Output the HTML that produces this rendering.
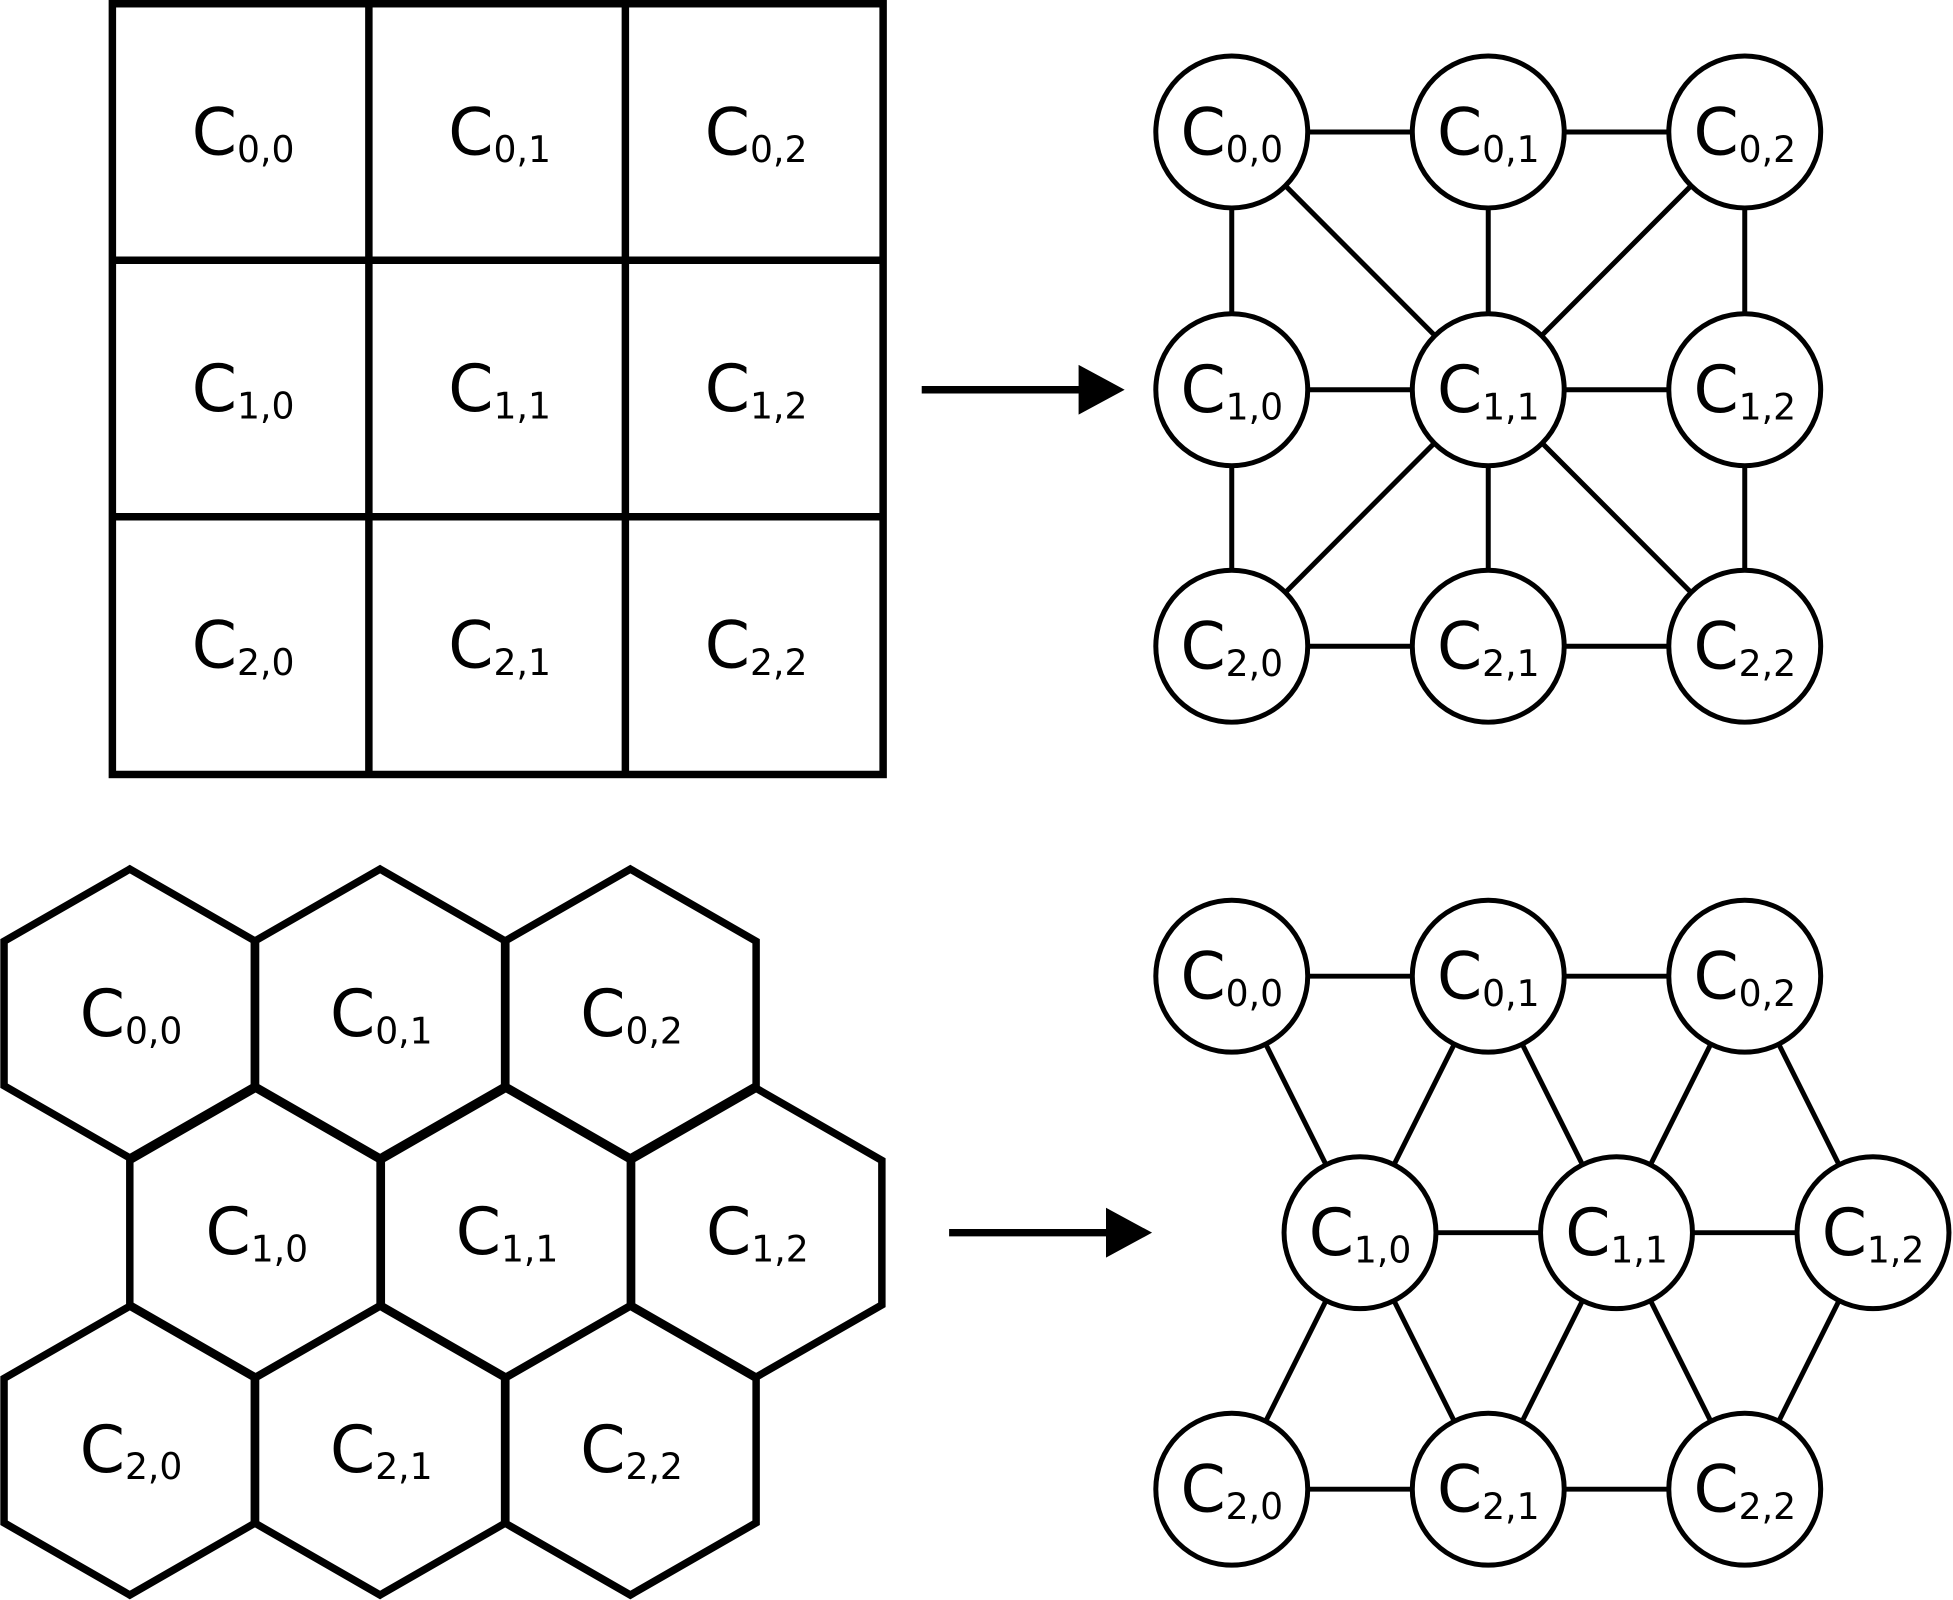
<!DOCTYPE html>
<html><head><meta charset="utf-8"><style>html,body{margin:0;padding:0;background:#fff}svg{display:block}</style></head>
<body>
<svg width="1953" height="1600" viewBox="0 0 1568 1285" xmlns="http://www.w3.org/2000/svg" font-family="DejaVu Sans, Liberation Sans, sans-serif">
<rect width="1568" height="1285" fill="#fff"/>
<g fill="none" stroke="#000" stroke-width="6">
<rect x="90" y="3" width="619" height="619"/>
<line x1="296" y1="3" x2="296" y2="622"/><line x1="502" y1="3" x2="502" y2="622"/>
<line x1="90" y1="209" x2="709" y2="209"/><line x1="90" y1="415" x2="709" y2="415"/>
</g>
<line x1="740" y1="313" x2="872" y2="313" stroke="#000" stroke-width="6"/>
<polygon points="866,293 903,313 866,333" fill="#000"/>
<line x1="762" y1="990" x2="892" y2="990" stroke="#000" stroke-width="6"/>
<polygon points="888,970 925,990 888,1010" fill="#000"/>
<g fill="none" stroke="#000" stroke-width="6">
<polygon transform="translate(104,814)" points="0,-116 101,-58 101,58 0,116 -101,58 -101,-58"/>
<polygon transform="translate(305,814)" points="0,-116 101,-58 101,58 0,116 -101,58 -101,-58"/>
<polygon transform="translate(506,814)" points="0,-116 101,-58 101,58 0,116 -101,58 -101,-58"/>
<polygon transform="translate(205,990)" points="0,-116 101,-58 101,58 0,116 -101,58 -101,-58"/>
<polygon transform="translate(406,990)" points="0,-116 101,-58 101,58 0,116 -101,58 -101,-58"/>
<polygon transform="translate(607,990)" points="0,-116 101,-58 101,58 0,116 -101,58 -101,-58"/>
<polygon transform="translate(104,1165)" points="0,-116 101,-58 101,58 0,116 -101,58 -101,-58"/>
<polygon transform="translate(305,1165)" points="0,-116 101,-58 101,58 0,116 -101,58 -101,-58"/>
<polygon transform="translate(506,1165)" points="0,-116 101,-58 101,58 0,116 -101,58 -101,-58"/>
</g>
<g stroke="#000" stroke-width="4">
<line x1="989" y1="106" x2="1401" y2="106"/><line x1="989" y1="313" x2="1401" y2="313"/><line x1="989" y1="519" x2="1401" y2="519"/>
<line x1="989" y1="106" x2="989" y2="519"/><line x1="1195" y1="106" x2="1195" y2="519"/><line x1="1401" y1="106" x2="1401" y2="519"/>
<line x1="989" y1="106" x2="1401" y2="519"/><line x1="1401" y1="106" x2="989" y2="519"/>
<line x1="989" y1="784" x2="1401" y2="784"/><line x1="1092" y1="990" x2="1504" y2="990"/><line x1="989" y1="1196" x2="1401" y2="1196"/>
<line x1="989" y1="784" x2="1092" y2="990"/><line x1="1195" y1="784" x2="1092" y2="990"/><line x1="1195" y1="784" x2="1298" y2="990"/>
<line x1="1401" y1="784" x2="1298" y2="990"/><line x1="1401" y1="784" x2="1504" y2="990"/>
<line x1="1092" y1="990" x2="989" y2="1196"/><line x1="1092" y1="990" x2="1195" y2="1196"/><line x1="1298" y1="990" x2="1195" y2="1196"/>
<line x1="1298" y1="990" x2="1401" y2="1196"/><line x1="1504" y1="990" x2="1401" y2="1196"/>
</g>
<g fill="#fff" stroke="#000" stroke-width="4">
<circle cx="989" cy="106" r="61"/><circle cx="1195" cy="106" r="61"/><circle cx="1401" cy="106" r="61"/>
<circle cx="989" cy="313" r="61"/><circle cx="1195" cy="313" r="61"/><circle cx="1401" cy="313" r="61"/>
<circle cx="989" cy="519" r="61"/><circle cx="1195" cy="519" r="61"/><circle cx="1401" cy="519" r="61"/>
<circle cx="989" cy="784" r="61"/><circle cx="1195" cy="784" r="61"/><circle cx="1401" cy="784" r="61"/>
<circle cx="1092" cy="990" r="61"/><circle cx="1298" cy="990" r="61"/><circle cx="1504" cy="990" r="61"/>
<circle cx="989" cy="1196" r="61"/><circle cx="1195" cy="1196" r="61"/><circle cx="1401" cy="1196" r="61"/>
</g>
<g fill="#000" text-anchor="middle">
<text x="195" y="124"><tspan font-size="52">C</tspan><tspan font-size="29" dy="6">0,0</tspan></text>
<text x="401" y="124"><tspan font-size="52">C</tspan><tspan font-size="29" dy="6">0,1</tspan></text>
<text x="607" y="124"><tspan font-size="52">C</tspan><tspan font-size="29" dy="6">0,2</tspan></text>
<text x="195" y="330"><tspan font-size="52">C</tspan><tspan font-size="29" dy="6">1,0</tspan></text>
<text x="401" y="330"><tspan font-size="52">C</tspan><tspan font-size="29" dy="6">1,1</tspan></text>
<text x="607" y="330"><tspan font-size="52">C</tspan><tspan font-size="29" dy="6">1,2</tspan></text>
<text x="195" y="536"><tspan font-size="52">C</tspan><tspan font-size="29" dy="6">2,0</tspan></text>
<text x="401" y="536"><tspan font-size="52">C</tspan><tspan font-size="29" dy="6">2,1</tspan></text>
<text x="607" y="536"><tspan font-size="52">C</tspan><tspan font-size="29" dy="6">2,2</tspan></text>
<text x="989" y="124"><tspan font-size="52">C</tspan><tspan font-size="29" dy="6">0,0</tspan></text>
<text x="1195" y="124"><tspan font-size="52">C</tspan><tspan font-size="29" dy="6">0,1</tspan></text>
<text x="1401" y="124"><tspan font-size="52">C</tspan><tspan font-size="29" dy="6">0,2</tspan></text>
<text x="989" y="331"><tspan font-size="52">C</tspan><tspan font-size="29" dy="6">1,0</tspan></text>
<text x="1195" y="331"><tspan font-size="52">C</tspan><tspan font-size="29" dy="6">1,1</tspan></text>
<text x="1401" y="331"><tspan font-size="52">C</tspan><tspan font-size="29" dy="6">1,2</tspan></text>
<text x="989" y="537"><tspan font-size="52">C</tspan><tspan font-size="29" dy="6">2,0</tspan></text>
<text x="1195" y="537"><tspan font-size="52">C</tspan><tspan font-size="29" dy="6">2,1</tspan></text>
<text x="1401" y="537"><tspan font-size="52">C</tspan><tspan font-size="29" dy="6">2,2</tspan></text>
<text x="105" y="832"><tspan font-size="52">C</tspan><tspan font-size="29" dy="6">0,0</tspan></text>
<text x="306" y="832"><tspan font-size="52">C</tspan><tspan font-size="29" dy="6">0,1</tspan></text>
<text x="507" y="832"><tspan font-size="52">C</tspan><tspan font-size="29" dy="6">0,2</tspan></text>
<text x="206" y="1007"><tspan font-size="52">C</tspan><tspan font-size="29" dy="6">1,0</tspan></text>
<text x="407" y="1007"><tspan font-size="52">C</tspan><tspan font-size="29" dy="6">1,1</tspan></text>
<text x="608" y="1007"><tspan font-size="52">C</tspan><tspan font-size="29" dy="6">1,2</tspan></text>
<text x="105" y="1182"><tspan font-size="52">C</tspan><tspan font-size="29" dy="6">2,0</tspan></text>
<text x="306" y="1182"><tspan font-size="52">C</tspan><tspan font-size="29" dy="6">2,1</tspan></text>
<text x="507" y="1182"><tspan font-size="52">C</tspan><tspan font-size="29" dy="6">2,2</tspan></text>
<text x="989" y="802"><tspan font-size="52">C</tspan><tspan font-size="29" dy="6">0,0</tspan></text>
<text x="1195" y="802"><tspan font-size="52">C</tspan><tspan font-size="29" dy="6">0,1</tspan></text>
<text x="1401" y="802"><tspan font-size="52">C</tspan><tspan font-size="29" dy="6">0,2</tspan></text>
<text x="1092" y="1008"><tspan font-size="52">C</tspan><tspan font-size="29" dy="6">1,0</tspan></text>
<text x="1298" y="1008"><tspan font-size="52">C</tspan><tspan font-size="29" dy="6">1,1</tspan></text>
<text x="1504" y="1008"><tspan font-size="52">C</tspan><tspan font-size="29" dy="6">1,2</tspan></text>
<text x="989" y="1214"><tspan font-size="52">C</tspan><tspan font-size="29" dy="6">2,0</tspan></text>
<text x="1195" y="1214"><tspan font-size="52">C</tspan><tspan font-size="29" dy="6">2,1</tspan></text>
<text x="1401" y="1214"><tspan font-size="52">C</tspan><tspan font-size="29" dy="6">2,2</tspan></text>
</g>
</svg>
</body></html>
